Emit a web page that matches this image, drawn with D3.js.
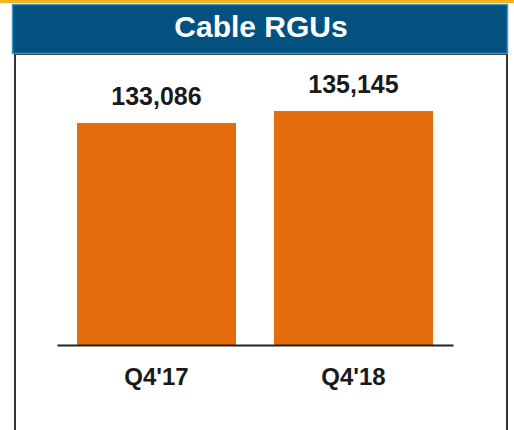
<!DOCTYPE html>
<html>
<head>
<meta charset="utf-8">
<script src="https://cdn.jsdelivr.net/npm/d3@7"></script>
<style>
  html, body { margin: 0; padding: 0; background: #ffffff; }
  svg { display: block; }
</style>
</head>
<body>
<svg id="chart" width="514" height="430"></svg>
<script>
const title = "Cable RGUs";
const categories = ["Q4'17", "Q4'18"];
const values = [133086, 135145];
const valueLabels = ["133,086", "135,145"];

const svg = d3.select("#chart");
const W = 514, H = 430;
const font = "'Liberation Sans', Arial, Helvetica, sans-serif";

// background
svg.append("rect").attr("x", 0).attr("y", 0).attr("width", W).attr("height", H).attr("fill", "#ffffff");

// gold strip at top
svg.append("rect").attr("x", 0).attr("y", 0).attr("width", W).attr("height", 3).attr("fill", "#f2b41e");

// panel box
svg.append("rect")
  .attr("x", 15).attr("y", 54).attr("width", 492).attr("height", 400)
  .attr("fill", "#ffffff").attr("stroke", "#333333").attr("stroke-width", 2);

// title banner
svg.append("rect")
  .attr("x", 12.5).attr("y", 4.5).attr("width", 495).attr("height", 49)
  .attr("fill", "#02517f").attr("stroke", "#3f95c8").attr("stroke-width", 1.5);

svg.append("text")
  .attr("x", 261).attr("y", 37)
  .attr("text-anchor", "middle")
  .attr("font-family", font).attr("font-weight", "bold").attr("font-size", 30)
  .attr("fill", "#ffffff")
  .text(title);

// scales
const x = d3.scaleBand()
  .domain(categories)
  .range([57, 453])
  .paddingInner(0.193)
  .paddingOuter(0.1015);

const y = d3.scaleLinear()
  .domain([95000, 136000])
  .range([345, 106]);

// bars
svg.selectAll("rect.bar")
  .data(values)
  .enter().append("rect")
  .attr("class", "bar")
  .attr("x", (d, i) => x(categories[i]))
  .attr("y", d => y(d))
  .attr("width", x.bandwidth())
  .attr("height", d => y.range()[0] - y(d))
  .attr("fill", "#e46c0a");

// value labels
svg.selectAll("text.val")
  .data(values)
  .enter().append("text")
  .attr("class", "val")
  .attr("x", (d, i) => x(categories[i]) + x.bandwidth() / 2)
  .attr("y", d => y(d) - 18)
  .attr("text-anchor", "middle")
  .attr("font-family", font).attr("font-weight", "bold").attr("font-size", 25)
  .attr("fill", "#1a1a1a")
  .text((d, i) => valueLabels[i]);

// baseline axis
const axis = d3.axisBottom(x).tickSize(0).tickPadding(0);
const g = svg.append("g").attr("transform", "translate(0,345)").call(axis);
g.select(".domain").attr("stroke", "#222222").attr("stroke-width", 2.2);
g.selectAll(".tick text")
  .attr("y", 40)
  .attr("dy", 0)
  .attr("font-family", font).attr("font-weight", "bold").attr("font-size", 24)
  .attr("fill", "#1a1a1a");
</script>
</body>
</html>
